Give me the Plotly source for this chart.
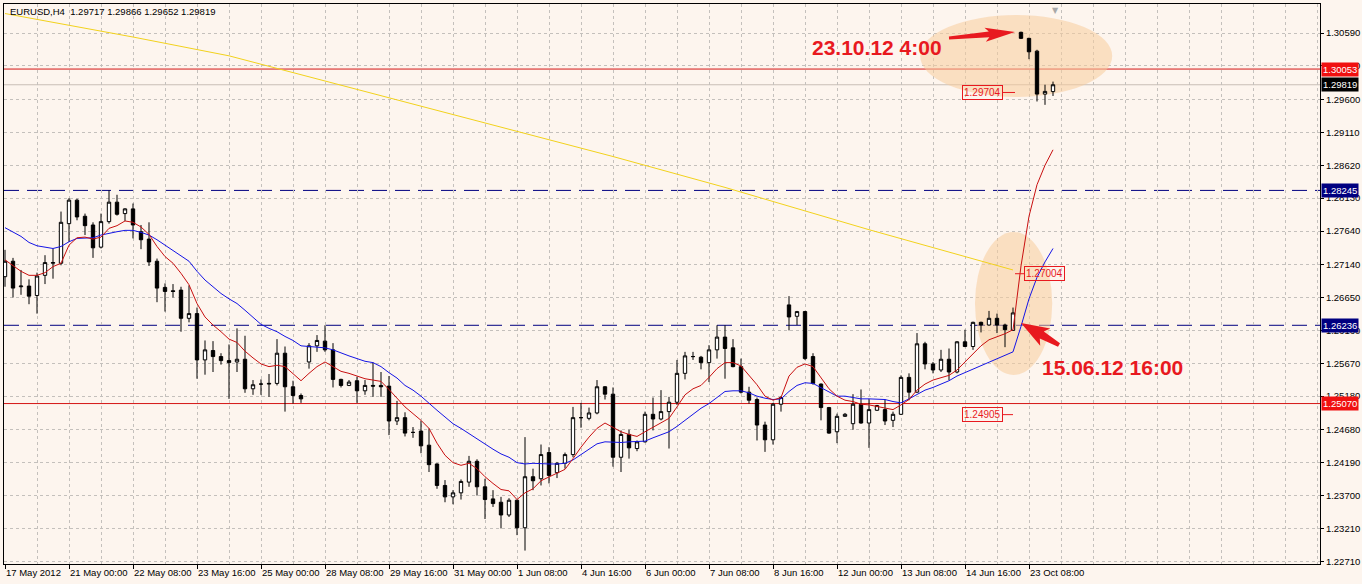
import math
import plotly.graph_objects as go

# ---------------- data ----------------
SYMBOL = "EURUSD,H4"

TICK_BARS = [0, 8, 16, 24, 32, 40, 48, 56, 64, 72, 80, 88, 96, 104, 112, 120, 128]
TICK_LABELS = ["17 May 2012", "21 May 00:00", "22 May 08:00", "23 May 16:00", "25 May 00:00",
               "28 May 08:00", "29 May 16:00", "31 May 00:00", "1 Jun 08:00", "4 Jun 16:00",
               "6 Jun 00:00", "7 Jun 08:00", "8 Jun 16:00", "12 Jun 00:00", "13 Jun 08:00",
               "14 Jun 16:00", "23 Oct 08:00"]

OPEN = [1.2696, 1.2719, 1.2681, 1.2682, 1.2668, 1.2698, 1.2716, 1.2716, 1.2775, 1.2810,
        1.2786, 1.2773, 1.2740, 1.2778, 1.2807, 1.2790, 1.2797, 1.2763, 1.2752, 1.2719,
        1.2680, 1.2675, 1.2676, 1.2634, 1.2641, 1.2572, 1.2586, 1.2577, 1.2571, 1.2569,
        1.2573, 1.2529, 1.2536, 1.2536, 1.2537, 1.2582, 1.2532, 1.2519, 1.2569, 1.2593,
        1.2600, 1.2587, 1.2543, 1.2534, 1.2541, 1.2526, 1.2534, 1.2534, 1.2533, 1.2481,
        1.2486, 1.2464, 1.2466, 1.2445, 1.2417, 1.2385, 1.2368, 1.2374, 1.2390, 1.2421,
        1.2383, 1.2365, 1.2360, 1.2341, 1.2363, 1.2322, 1.2398, 1.2395, 1.2434, 1.2404,
        1.2418, 1.2431, 1.2486, 1.2485, 1.2493, 1.2532, 1.2521, 1.2427, 1.2461, 1.2440,
        1.2450, 1.2491, 1.2484, 1.2495, 1.2509, 1.2552, 1.2577, 1.2576, 1.2568, 1.2587,
        1.2606, 1.2590, 1.2562, 1.2524, 1.2513, 1.2475, 1.2453, 1.2506, 1.2654, 1.2637,
        1.2644, 1.2577, 1.2536, 1.2501, 1.2465, 1.2488, 1.2477, 1.2506, 1.2478, 1.2497,
        1.2498, 1.2482, 1.2491, 1.2546, 1.2524, 1.2596, 1.2566, 1.2557, 1.2573, 1.2554,
        1.2599, 1.2592, 1.2628, 1.2624, 1.2634, 1.2624, 1.2616, 1.3060, 1.3051, 1.3032,
        1.2968, 1.29717]
HIGH = [1.2736, 1.2724, 1.2706, 1.2692, 1.2702, 1.2728, 1.2738, 1.2793, 1.2813, 1.2812,
        1.2790, 1.2777, 1.2790, 1.28245, 1.2818, 1.2798, 1.2805, 1.2773, 1.2777, 1.2723,
        1.2686, 1.2685, 1.2681, 1.2683, 1.2650, 1.2601, 1.2600, 1.2582, 1.2595, 1.2619,
        1.2608, 1.2542, 1.2543, 1.2551, 1.2603, 1.2592, 1.2541, 1.2522, 1.2597, 1.2609,
        1.26236, 1.2597, 1.2544, 1.2542, 1.2547, 1.2542, 1.2568, 1.2554, 1.2548, 1.2511,
        1.2494, 1.2472, 1.2481, 1.2470, 1.2418, 1.2393, 1.2378, 1.2394, 1.2429, 1.2424,
        1.2395, 1.2378, 1.2368, 1.2366, 1.2364, 1.2457, 1.2410, 1.2446, 1.2442, 1.2420,
        1.2434, 1.2502, 1.2508, 1.2501, 1.2542, 1.2533, 1.2531, 1.2467, 1.2468, 1.2452,
        1.2495, 1.2516, 1.2527, 1.2517, 1.2572, 1.2584, 1.2584, 1.2578, 1.2594, 1.26236,
        1.26236, 1.2603, 1.2574, 1.2532, 1.2516, 1.2480, 1.2508, 1.2518, 1.2667, 1.2645,
        1.2645, 1.2582, 1.2537, 1.2502, 1.2492, 1.2493, 1.2521, 1.2528, 1.2514, 1.2505,
        1.2513, 1.2495, 1.2549, 1.2552, 1.2612, 1.2599, 1.2569, 1.2587, 1.2589, 1.2600,
        1.2617, 1.2629, 1.2629, 1.2645, 1.2641, 1.2626, 1.2650, 1.3061, 1.3052, 1.3034,
        1.2982, 1.29866]
LOW = [1.2681, 1.2665, 1.2669, 1.2655, 1.2641, 1.2685, 1.2693, 1.2713, 1.2748, 1.2780,
       1.2758, 1.2724, 1.2738, 1.2775, 1.2787, 1.2779, 1.2753, 1.2737, 1.2712, 1.2658,
       1.2644, 1.2665, 1.2614, 1.2628, 1.2544, 1.2550, 1.2554, 1.2565, 1.2514, 1.2554,
       1.2523, 1.2520, 1.2520, 1.2517, 1.2534, 1.2495, 1.2507, 1.2508, 1.2559, 1.2584,
       1.2584, 1.2531, 1.2531, 1.2533, 1.2508, 1.2520, 1.2517, 1.2517, 1.2460, 1.2475,
       1.2458, 1.2456, 1.2433, 1.2405, 1.2380, 1.2360, 1.2357, 1.2364, 1.2383, 1.2370,
       1.2335, 1.2353, 1.2321, 1.2338, 1.2311, 1.2288, 1.2378, 1.2385, 1.2388, 1.2396,
       1.2410, 1.2427, 1.2471, 1.2482, 1.2491, 1.2513, 1.2413, 1.2405, 1.2425, 1.2436,
       1.2449, 1.2467, 1.2482, 1.2440, 1.2505, 1.2543, 1.2572, 1.2558, 1.2539, 1.2574,
       1.2544, 1.2561, 1.2522, 1.2507, 1.2452, 1.2435, 1.2446, 1.2495, 1.2616, 1.2624,
       1.2572, 1.2535, 1.2482, 1.2462, 1.2448, 1.2487, 1.2468, 1.2477, 1.2441, 1.2496,
       1.2475, 1.2472, 1.2490, 1.2512, 1.2523, 1.2558, 1.2552, 1.2554, 1.2542, 1.2552,
       1.2591, 1.2587, 1.2613, 1.2623, 1.2612, 1.2591, 1.2616, 1.3050, 1.3020, 1.2957,
       1.2952, 1.29652]
CLOSE = [1.2719, 1.2679, 1.2682, 1.2667, 1.2697, 1.2717, 1.2717, 1.2777, 1.2810, 1.2785,
         1.2772, 1.2739, 1.2778, 1.2807, 1.2789, 1.2797, 1.2773, 1.2751, 1.2718, 1.2679,
         1.2674, 1.2674, 1.2634, 1.2641, 1.2572, 1.2587, 1.2577, 1.2571, 1.2568, 1.2573,
         1.2529, 1.2535, 1.2536, 1.2537, 1.2582, 1.2532, 1.2519, 1.2514, 1.2593, 1.2601,
         1.2587, 1.2543, 1.2534, 1.2539, 1.2526, 1.2534, 1.2533, 1.2532, 1.2481, 1.2486,
         1.2463, 1.2464, 1.2444, 1.2416, 1.2385, 1.2368, 1.2374, 1.2391, 1.2421, 1.2383,
         1.2364, 1.2358, 1.2341, 1.2363, 1.2322, 1.2398, 1.2392, 1.2431, 1.2400, 1.2418,
         1.2431, 1.2486, 1.2486, 1.2493, 1.2532, 1.2521, 1.2427, 1.2461, 1.2441, 1.2450,
         1.2491, 1.2484, 1.2495, 1.2509, 1.2552, 1.2578, 1.2577, 1.2568, 1.2587, 1.2606,
         1.2589, 1.2562, 1.2524, 1.2512, 1.2475, 1.2453, 1.2506, 1.2516, 1.2636, 1.2644,
         1.2574, 1.2537, 1.2501, 1.2463, 1.2488, 1.2491, 1.2506, 1.2478, 1.2498, 1.2504,
         1.2481, 1.2491, 1.2546, 1.2524, 1.2596, 1.2566, 1.2557, 1.2573, 1.2554, 1.2599,
         1.2592, 1.2628, 1.2624, 1.2634, 1.2624, 1.2617, 1.2642, 1.3051, 1.3031, 1.2968,
         1.2972, 1.29819]

RED_MA = [1.2721, 1.2713, 1.2704, 1.2698, 1.2698, 1.2702, 1.2711, 1.2716, 1.2743, 1.2754,
          1.2755, 1.2752, 1.2755, 1.2768, 1.2772, 1.2779, 1.2777, 1.2770, 1.2759, 1.2741,
          1.2726, 1.2716, 1.2701, 1.2684, 1.2656, 1.2636, 1.2624, 1.2614, 1.2603, 1.2598,
          1.2585, 1.2575, 1.2566, 1.2562, 1.2564, 1.2562, 1.2552, 1.2541, 1.2552, 1.2562,
          1.2569, 1.2562, 1.2555, 1.2552, 1.2548, 1.2544, 1.2542, 1.2540, 1.2528, 1.2515,
          1.2502, 1.2492, 1.2482, 1.2470, 1.2448, 1.2430, 1.2419, 1.2415, 1.2418, 1.2410,
          1.2398, 1.2388, 1.2379, 1.2377, 1.2364, 1.2374, 1.2380, 1.2392, 1.2398, 1.2404,
          1.2409, 1.2425, 1.2442, 1.2457, 1.2470, 1.2478, 1.2471, 1.2465, 1.2461, 1.2458,
          1.2465, 1.2472, 1.2478, 1.2485, 1.2502, 1.2520, 1.2529, 1.2534, 1.2546, 1.2559,
          1.2568, 1.2568, 1.2563, 1.2549, 1.2535, 1.2518, 1.2512, 1.2516, 1.2548, 1.2561,
          1.2566, 1.2562, 1.2546, 1.2529, 1.2518, 1.2512, 1.2510, 1.2506, 1.2505, 1.2503,
          1.2501, 1.2498, 1.2505, 1.2513, 1.2527, 1.2536, 1.2542, 1.2546, 1.2549, 1.2557,
          1.2569, 1.2582, 1.2593, 1.2602, 1.2606, 1.2611, 1.2617, 1.2712, 1.2786, 1.2833,
          1.2862, 1.2885]
BLUE_MA = [1.2769, 1.2763, 1.2756, 1.2747, 1.2742, 1.2740, 1.2738, 1.2741, 1.2748, 1.2753,
           1.2753, 1.2754, 1.2758, 1.2761, 1.2763, 1.2765, 1.2765, 1.2762, 1.2758, 1.2751,
           1.2743, 1.2736, 1.2727, 1.2719, 1.2704, 1.2691, 1.2681, 1.2671, 1.2663, 1.2656,
           1.2646, 1.2636, 1.2625, 1.2619, 1.2614, 1.2607, 1.2601, 1.2593, 1.2592, 1.2592,
           1.2590, 1.2587, 1.2582, 1.2578, 1.2574, 1.2570, 1.2568, 1.2562, 1.2553, 1.2545,
           1.2534, 1.2527, 1.2518, 1.2507, 1.2497, 1.2487, 1.2477, 1.2470, 1.2462, 1.2455,
           1.2447, 1.2439, 1.2432, 1.2427, 1.2419, 1.2417, 1.2418, 1.2417, 1.2417, 1.2417,
           1.2418, 1.2423, 1.2431, 1.2440, 1.2447, 1.2450, 1.2449, 1.2449, 1.2450, 1.2450,
           1.2451, 1.2456, 1.2460, 1.2465, 1.2473, 1.2482, 1.2492, 1.2500, 1.2507, 1.2516,
           1.2525, 1.2526, 1.2526, 1.2523, 1.2518, 1.2515, 1.2513, 1.2514, 1.2525, 1.2534,
           1.2538, 1.2537, 1.2531, 1.2525, 1.2518, 1.2518, 1.2516, 1.2514, 1.2514, 1.2513,
           1.2513, 1.2510, 1.2508, 1.2514, 1.2521, 1.2527, 1.2531, 1.2536, 1.2541, 1.2548,
           1.2553, 1.2559, 1.2563, 1.2568, 1.2573, 1.2578, 1.2584, 1.2622, 1.2663, 1.2695,
           1.2718, 1.2738]
YELLOW_BARS = [0, 16, 28, 44, 60, 76, 90, 108, 126]
YELLOW_MA = [1.3088, 1.3053, 1.3025, 1.2975, 1.2925, 1.2875, 1.2829, 1.2766, 1.2706]

Y_TICKS = [1.22710, 1.23210, 1.23700, 1.24190, 1.24680, 1.25180, 1.25670, 1.26160, 1.26650,
           1.27140, 1.27640, 1.28130, 1.28620, 1.29110, 1.29600, 1.30100, 1.30590]

# horizontal levels: price, line colour, dash, label box colour
LEVELS = [(1.30053, "#D41414", "solid", "#F01010"),
          (1.29819, "#C8BEB6", "solid", "#000000"),
          (1.28245, "#000080", "15px,8px", "#000080"),
          (1.26236, "#000080", "15px,8px", "#000080"),
          (1.25070, "#D41414", "solid", "#F01010")]

# price labels drawn on chart: text value, bar of box edge, box side, tick start bar, tick end bar
PRICE_TAGS = [(1.29704, 124.75, "right", 124.75, 126.25),
              (1.27004, 127.40, "left", 126.25, 127.40),
              (1.24905, 124.75, "right", 124.75, 126.00)]

NOTES = [("23.10.12 4:00", 100.6, 1.30367), ("15.06.12 16:00", 129.4, 1.25600)]

# highlight ellipses (bar0, bar1, price0, price1)
HIGHLIGHTS = [(114.4, 138.4, 1.29637, 1.30858), (121.25, 130.9, 1.25496, 1.27626)]

BG = "#FDF5EE"
RED = "#E8191F"
FONT = "Liberation Sans"

BARS = list(range(len(OPEN)))

fig = go.Figure()

fig.add_trace(go.Scatter(x=YELLOW_BARS, y=YELLOW_MA, mode="lines",
                         line=dict(color="#F2D21C", width=1), hoverinfo="skip", showlegend=False))
fig.add_trace(go.Scatter(x=BARS, y=BLUE_MA, mode="lines",
                         line=dict(color="#1414E6", width=1), hoverinfo="skip", showlegend=False))
fig.add_trace(go.Scatter(x=BARS, y=RED_MA, mode="lines",
                         line=dict(color="#C81010", width=1), hoverinfo="skip", showlegend=False))
fig.add_trace(go.Candlestick(
    x=BARS, open=OPEN, high=HIGH, low=LOW, close=CLOSE,
    increasing=dict(line=dict(color="black", width=1), fillcolor="white"),
    decreasing=dict(line=dict(color="black", width=1), fillcolor="black"),
    whiskerwidth=0, hoverinfo="skip", showlegend=False))

shapes = []
for b0, b1, p0, p1 in HIGHLIGHTS:
    shapes.append(dict(type="circle", xref="x", yref="y", x0=b0, x1=b1, y0=p0, y1=p1,
                       fillcolor="rgba(247, 204, 156, 0.55)", line=dict(width=0),
                       layer="between"))
for price, col, dash, _ in LEVELS:
    shapes.append(dict(type="line", xref="paper", yref="y", x0=0, x1=1, y0=price, y1=price,
                       line=dict(color=col, width=1, dash=dash), layer="between"))
for val, edge, side, t0, t1 in PRICE_TAGS:
    shapes.append(dict(type="line", xref="x", yref="y", x0=t0, x1=t1, y0=val, y1=val,
                       line=dict(color=RED, width=1), layer="above"))


def arrow_path(tdx, tdy, head_len, head_half, shaft_tail, shaft_head):
    length = math.hypot(tdx, tdy)
    ux, uy = -tdx / length, -tdy / length
    px, py = -uy, ux
    bx, by = -ux * head_len, -uy * head_len
    pts = [(tdx + px * shaft_tail, tdy + py * shaft_tail),
           (bx + px * shaft_head, by + py * shaft_head),
           (bx + px * head_half - ux * 4, by + py * head_half - uy * 4),
           (0, 0),
           (bx - px * head_half - ux * 4, by - py * head_half - uy * 4),
           (bx - px * shaft_head, by - py * shaft_head),
           (tdx - px * shaft_tail, tdy - py * shaft_tail)]
    return "M " + " L ".join(f"{x:.1f},{y:.1f}" for x, y in pts) + " Z"


ARROWS = [(126.25, 1.30605, -66, -6, 26, 7, 1.5, 3.0),
          (127.0, 1.26270, 38, -22, 24, 10, 2.0, 4.0)]
for bx_, py_, tdx, tdy, hl, hh, st, sh in ARROWS:
    shapes.append(dict(type="path", xref="x", yref="y", xsizemode="pixel", ysizemode="pixel",
                       xanchor=bx_, yanchor=py_, path=arrow_path(tdx, tdy, hl, hh, st, sh),
                       fillcolor=RED, line=dict(width=0), layer="above"))

annotations = []
header = (f"{SYMBOL}\u00a0\u00a0{OPEN[-1]:.5f} {HIGH[-1]:.5f} {LOW[-1]:.5f} {CLOSE[-1]:.5f}")
annotations.append(dict(xref="paper", yref="paper", x=0.003, y=0.986, xanchor="left",
                        yanchor="middle", text=header, showarrow=False,
                        font=dict(family=FONT, size=9.5, color="black")))
for price, _, _, box in LEVELS:
    annotations.append(dict(xref="paper", yref="y", x=1, y=price, xanchor="left",
                            yanchor="middle", xshift=1, text=f"{price:.5f}", showarrow=False,
                            bgcolor=box, borderpad=1,
                            font=dict(family=FONT, size=9.5, color="white")))
for val, edge, side, t0, t1 in PRICE_TAGS:
    annotations.append(dict(xref="x", yref="y", x=edge, y=val, xanchor=side, yanchor="middle",
                            text=f"{val:.5f}", showarrow=False, bordercolor=RED, borderwidth=1,
                            borderpad=1, font=dict(family=FONT, size=10, color=RED)))
for txt, b, p in NOTES:
    annotations.append(dict(xref="x", yref="y", x=b, y=p, xanchor="left", yanchor="middle",
                            text=f"<b>{txt}</b>", showarrow=False,
                            font=dict(family=FONT, size=21, color=RED)))
annotations.append(dict(xref="x", yref="paper", x=131.25, y=1.0, xanchor="center",
                        yanchor="top", text="\u25bc", showarrow=False,
                        font=dict(family="DejaVu Sans", size=8, color="#A8A8A8")))

fig.update_layout(
    width=1362, height=584,
    margin=dict(l=4, r=42, t=4, b=20, pad=0),
    paper_bgcolor=BG, plot_bgcolor=BG,
    boxgap=0.4,
    showlegend=False,
    shapes=shapes, annotations=annotations,
    xaxis=dict(range=[-0.125, 164.375], tickmode="array", tickvals=TICK_BARS,
               ticktext=TICK_LABELS, ticks="outside", ticklen=4, tickcolor="black",
               ticklabelposition="outside right", tickangle=0,
               tickfont=dict(family=FONT, size=9.5, color="black"),
               showgrid=True, gridcolor="#C4C0BC", griddash="3px,3px", gridwidth=1,
               minor=dict(tickmode="linear", tick0=0, dtick=4, showgrid=True,
                          gridcolor="#C4C0BC", griddash="3px,3px", gridwidth=1, ticks=""),
               showline=True, linecolor="black", linewidth=1, mirror=True,
               zeroline=False, rangeslider=dict(visible=False), automargin=False,
               fixedrange=True),
    yaxis=dict(range=[1.22680, 1.31022], side="right", tickmode="array", tickvals=Y_TICKS,
               ticktext=[f"{v:.5f}" for v in Y_TICKS], ticks="outside", ticklen=3,
               tickcolor="black", tickfont=dict(family=FONT, size=9.5, color="black"),
               showgrid=True, gridcolor="#C4C0BC", griddash="3px,3px", gridwidth=1,
               showline=True, linecolor="black", linewidth=1, mirror=True,
               zeroline=False, automargin=False, fixedrange=True),
)

fig.write_html("out.html")
